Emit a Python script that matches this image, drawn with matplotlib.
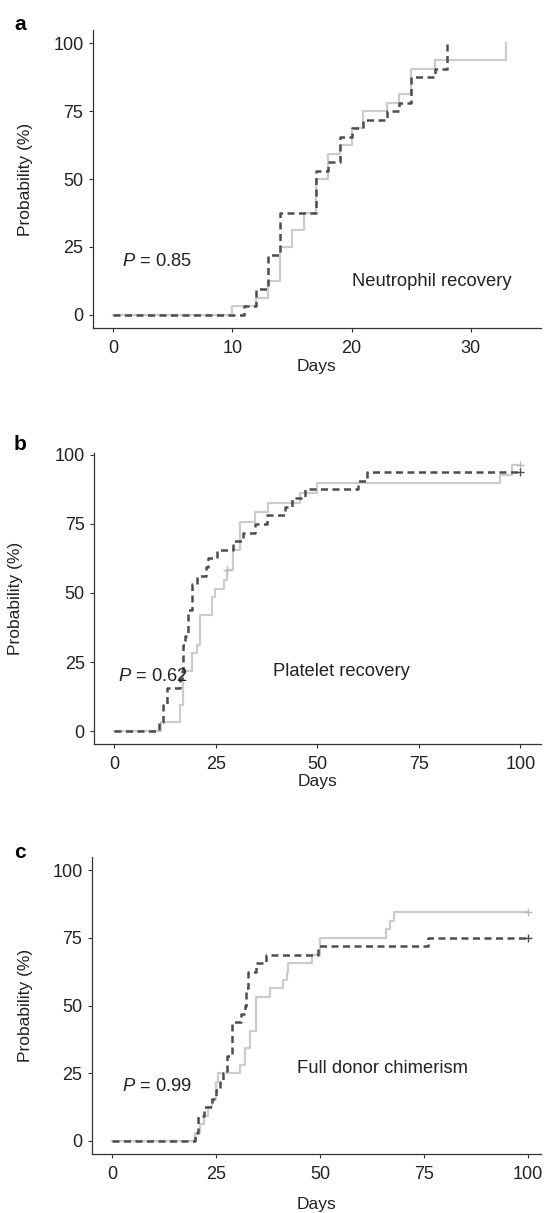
import numpy as np
import matplotlib
matplotlib.use("Agg")
import matplotlib.pyplot as plt

plt.rcParams['font.family'] = ['Liberation Sans', 'DejaVu Sans']
plt.rcParams['mathtext.fontset'] = 'custom'
plt.rcParams['mathtext.rm'] = 'Liberation Sans'
plt.rcParams['mathtext.it'] = 'Liberation Sans:italic'

# panel a: neutrophil recovery
a_grey_days = [0, 10, 12, 13, 14, 15, 16, 17, 18, 19, 20, 21, 23, 24, 25, 27, 33]
a_grey_prob = [0, 3.125, 6.25, 12.5, 25, 31.25, 37.5, 50, 59.375, 62.5, 68.75, 75,
               78.125, 81.25, 90.625, 93.75, 100]
a_dash_days = [0, 11, 12, 13, 14, 17, 18, 19, 20, 21, 23, 24, 25, 27, 28]
a_dash_prob = [0, 3.125, 9.375, 21.875, 37.5, 53.125, 56.25, 65.625, 68.75, 71.875,
               75, 78.125, 87.5, 90.625, 100]

# panel b: platelet recovery
b_grey_days = [0, 11.5, 16.2, 17, 19.1, 20.3, 21.1, 24, 24.8, 26.9, 27.7, 29.3, 31,
               34.7, 37.9, 45.7, 49.9, 95, 97.9, 100]
b_grey_prob = [0, 3.1, 9.4, 21.9, 28.1, 31.3, 42.2, 48.4, 51.6, 54.7, 58.4, 65.6, 75.8,
               79.2, 82.5, 86.1, 89.7, 92.9, 96.4, 96.4]
b_grey_cens = [(27.7, 58.4), (100, 96.4)]
b_dash_days = [0, 11, 12, 13, 16.2, 16.6, 17, 17.5, 18.2, 19.1, 20.3, 22.7, 23.2, 25.2,
               29.3, 31.8, 34.7, 37.5, 42, 43.7, 47, 60.1, 62.2, 100]
b_dash_prob = [0, 3.1, 9.4, 15.6, 18.8, 21.9, 31.3, 34.4, 43.8, 53.1, 56.3, 59.4, 62.5,
               65.6, 68.8, 71.9, 75, 78.1, 81.3, 84.4, 87.5, 90.6, 93.8, 93.8]
b_dash_cens = [(100, 93.8)]

# panel c: full donor chimerism
c_grey_days = [0, 20, 21, 22, 23, 24, 25, 25.5, 30.7, 31.9, 33.1, 34.7, 37.9, 41.2, 42,
               42.4, 48, 50, 65.9, 66.8, 67.8, 100]
c_grey_prob = [0, 3.1, 6.25, 9.4, 12.5, 15.6, 21.9, 25, 28.1, 34.4, 40.6, 53.1, 56.3,
               59.4, 62.5, 65.6, 68.8, 75, 78.1, 81.3, 84.4, 84.4]
c_grey_cens = [(100, 84.4)]
c_dash_days = [0, 20, 20.7, 22, 24, 25, 26, 26.7, 27.7, 28.8, 31, 32, 32.3, 32.7, 34.7,
               37, 49.6, 76, 100]
c_dash_prob = [0, 3.1, 9.4, 12.5, 15.6, 18.8, 21.9, 25, 31.3, 43.8, 46.9, 50, 56.3,
               62.5, 65.6, 68.8, 71.9, 75, 75]
c_dash_cens = [(100, 75)]

yticks = [0, 25, 50, 75, 100]
grey = '#cccccc'
dark = '#4d4d4d'
axcol = '#333333'
txtcol = '#222222'

W, H = 549, 1213
fig = plt.figure(figsize=(W / 100, H / 100), dpi=100)

panels = [
    dict(letter='a', box=(92.7, 30, 541, 328), xlim=(-1.73, 35.9), ylim=(-4.8, 104.8),
         xticks=[0, 10, 20, 30], grey=(a_grey_days, a_grey_prob), dash=(a_dash_days, a_dash_prob),
         gc=[], dc=[], ptxt='0.85', ppos=(0.7, 19.6), name='Neutrophil recovery', npos=(26.75, 12.2),
         ylab_x=-0.133, xlab_y=-0.104, let_y=30),
    dict(letter='b', box=(94, 453, 541, 744), xlim=(-5.0, 105.1), ylim=(-4.7, 100.7),
         xticks=[0, 25, 50, 75, 100], grey=(b_grey_days, b_grey_prob), dash=(b_dash_days, b_dash_prob),
         gc=b_grey_cens, dc=b_dash_cens, ptxt='0.62', ppos=(1.0, 19.7), name='Platelet recovery',
         npos=(55.9, 21.5), ylab_x=-0.159, xlab_y=-0.102, let_y=450),
    dict(letter='c', box=(91.7, 857, 541, 1154), xlim=(-4.96, 103.2), ylim=(-4.8, 104.8),
         xticks=[0, 25, 50, 75, 100], grey=(c_grey_days, c_grey_prob), dash=(c_dash_days, c_dash_prob),
         gc=c_grey_cens, dc=c_dash_cens, ptxt='0.99', ppos=(2.3, 20.0), name='Full donor chimerism',
         npos=(65.0, 26.8), ylab_x=-0.131, xlab_y=-0.146, let_y=858),
]

for p in panels:
    x0, y0, x1, y1 = p['box']
    ax = fig.add_axes([x0 / W, 1 - y1 / H, (x1 - x0) / W, (y1 - y0) / H])
    gd, gp = p['grey']
    dd, dp = p['dash']
    ax.step(gd, gp, where='post', color=grey, lw=1.6)
    ax.step(dd, dp, where='post', color=dark, lw=1.8, linestyle=(0, (2.8, 1.8)))
    for cx, cy in p['gc']:
        ax.plot(cx, cy, marker='+', ms=6, mew=1, color='#bbbbbb')
    for cx, cy in p['dc']:
        ax.plot(cx, cy, marker='+', ms=6, mew=1, color=dark)
    ax.set_xlim(*p['xlim'])
    ax.set_ylim(*p['ylim'])
    ax.set_xticks(p['xticks'])
    ax.set_yticks(yticks)
    for s in ['top', 'right']:
        ax.spines[s].set_visible(False)
    for s in ['left', 'bottom']:
        ax.spines[s].set_color(axcol)
        ax.spines[s].set_linewidth(0.9)
    ax.tick_params(axis='both', direction='out', length=3.2, width=0.8, color=axcol,
                   labelsize=13, labelcolor=txtcol)
    ax.tick_params(axis='x', pad=5.5)
    ax.tick_params(axis='y', pad=3.5)
    ax.set_ylabel('Probability (%)', fontsize=12.5, color=txtcol)
    ax.yaxis.set_label_coords(p['ylab_x'], 0.5)
    ax.set_xlabel('Days', fontsize=12.5, color=txtcol)
    ax.xaxis.set_label_coords(0.5, p['xlab_y'])
    ax.text(p['ppos'][0], p['ppos'][1], r'$\it{P}$ = ' + p['ptxt'], fontsize=13.2,
            ha='left', va='center', color=txtcol)
    ax.text(p['npos'][0], p['npos'][1], p['name'], fontsize=13.2, ha='center', va='center',
            color=txtcol)
    fig.text(14 / W, 1 - p['let_y'] / H, p['letter'], fontsize=15, fontweight='bold',
             ha='left', va='baseline')

fig.savefig('out.png', dpi=100)
